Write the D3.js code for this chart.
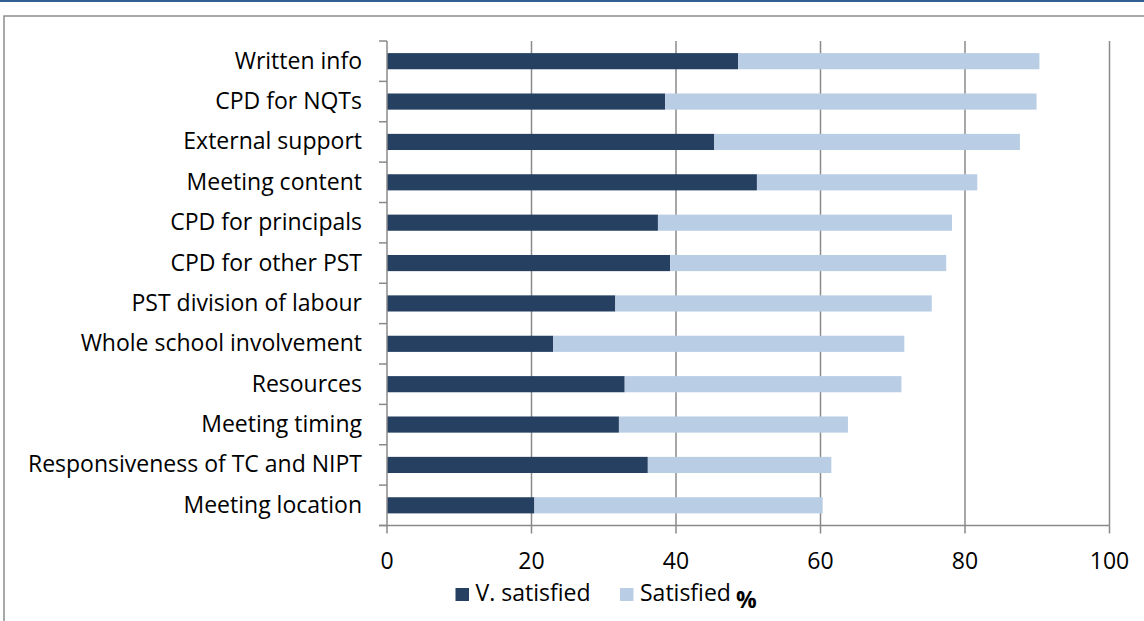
<!DOCTYPE html>
<html>
<head>
<meta charset="utf-8">
<script src="https://cdn.jsdelivr.net/npm/d3@7"></script>
<style>
  html, body { margin: 0; padding: 0; background: #fff; }
  svg { display: block; font-family: "Open Sans", "Noto Sans", sans-serif; }
</style>
</head>
<body>
<script>
// chart values
const categories = [
    'Written info', 'CPD for NQTs', 'External support', 'Meeting content',
    'CPD for principals', 'CPD for other PST', 'PST division of labour',
    'Whole school involvement', 'Resources', 'Meeting timing',
    'Responsiveness of TC and NIPT', 'Meeting location'
];
const vSatisfied = [48.6, 38.5, 45.3, 51.2, 37.5, 39.2, 31.6, 23.0, 32.9, 32.1, 36.1, 20.4];
const satisfied = [41.7, 51.4, 42.3, 30.5, 40.7, 38.2, 43.8, 48.6, 38.3, 31.7, 25.4, 39.9];
const seriesNames = ['V. satisfied', 'Satisfied'];
const xTicks = [0, 20, 40, 60, 80, 100];

const colors = { 'V. satisfied': '#254061', 'Satisfied': '#b9cde5' };
const gridColor = '#8a8a8a';

const svgWidth = 1144;
const svgHeight = 621;
const plot = { left: 387, right: 1109.5, top: 41, bottom: 525.5 };

const svg = d3.select('body').append('svg')
    .attr('width', svgWidth)
    .attr('height', svgHeight);

// thin blue rule at the very top and the chart frame
svg.append('rect')
    .attr('x', 0).attr('y', 0)
    .attr('width', svgWidth).attr('height', 2)
    .attr('fill', '#2f5f93');

svg.append('rect')
    .attr('x', 4).attr('y', 16)
    .attr('width', svgWidth + 10).attr('height', svgHeight)
    .attr('fill', 'none')
    .attr('stroke', '#8c8c8c')
    .attr('stroke-width', 1.5);

// scales
const xScale = d3.scaleLinear()
    .domain([0, 100])
    .range([plot.left, plot.right]);

const yScale = d3.scaleBand()
    .domain(categories)
    .range([plot.top, plot.bottom])
    .paddingInner(0.6)
    .paddingOuter(0.3);

// gridlines
svg.append('g')
    .selectAll('line')
    .data(xTicks.filter(t => t > 0))
    .enter().append('line')
    .attr('x1', d => xScale(d))
    .attr('x2', d => xScale(d))
    .attr('y1', plot.top)
    .attr('y2', plot.bottom)
    .attr('stroke', gridColor)
    .attr('stroke-width', 1.5);

// stacked bars
const rows = categories.map((c, i) => ({ category: c, 'V. satisfied': vSatisfied[i], 'Satisfied': satisfied[i] }));
const stacked = d3.stack().keys(seriesNames)(rows);

svg.append('g')
    .selectAll('g')
    .data(stacked)
    .enter().append('g')
    .attr('fill', d => colors[d.key])
    .selectAll('rect')
    .data(d => d)
    .enter().append('rect')
    .attr('x', d => xScale(d[0]))
    .attr('y', d => yScale(d.data.category))
    .attr('width', d => xScale(d[1]) - xScale(d[0]))
    .attr('height', yScale.bandwidth());

// y axis: line plus tick marks at category boundaries
const yAxis = svg.append('g').attr('stroke', gridColor).attr('stroke-width', 1.5);
yAxis.append('line')
    .attr('x1', plot.left).attr('x2', plot.left)
    .attr('y1', plot.top).attr('y2', plot.bottom);
yAxis.selectAll('line.tick')
    .data(d3.range(categories.length + 1))
    .enter().append('line')
    .attr('class', 'tick')
    .attr('x1', plot.left - 8).attr('x2', plot.left)
    .attr('y1', i => plot.top + i * (plot.bottom - plot.top) / categories.length)
    .attr('y2', i => plot.top + i * (plot.bottom - plot.top) / categories.length);

svg.append('g')
    .selectAll('text')
    .data(categories)
    .enter().append('text')
    .attr('x', 362)
    .attr('y', d => yScale(d) + yScale.bandwidth() / 2 + 7.5)
    .attr('text-anchor', 'end')
    .attr('font-size', 23)
    .attr('fill', '#000')
    .text(d => d);

// x axis
const xAxis = svg.append('g').attr('stroke', gridColor).attr('stroke-width', 1.5);
xAxis.append('line')
    .attr('x1', plot.left - 8).attr('x2', plot.right)
    .attr('y1', plot.bottom).attr('y2', plot.bottom);
xAxis.selectAll('line.tick')
    .data(xTicks)
    .enter().append('line')
    .attr('class', 'tick')
    .attr('x1', d => xScale(d)).attr('x2', d => xScale(d))
    .attr('y1', plot.bottom).attr('y2', plot.bottom + 8);

svg.append('g')
    .selectAll('text')
    .data(xTicks)
    .enter().append('text')
    .attr('x', d => xScale(d))
    .attr('y', 568.5)
    .attr('text-anchor', 'middle')
    .attr('font-size', 23)
    .attr('fill', '#000')
    .text(d => d);

// legend
const legend = svg.append('g');
const legendX = [455.5, 620];
seriesNames.forEach((name, i) => {
    legend.append('rect')
        .attr('x', legendX[i]).attr('y', 588)
        .attr('width', 13.5).attr('height', 13)
        .attr('fill', colors[name]);
    legend.append('text')
        .attr('x', legendX[i] + 20)
        .attr('y', 600.5)
        .attr('font-size', 23)
        .attr('fill', '#000')
        .text(name);
});

svg.append('text')
    .attr('x', 736)
    .attr('y', 607.5)
    .attr('font-size', 23)
    .attr('font-weight', 'bold')
    .attr('fill', '#000')
    .text('%');
</script>
</body>
</html>
